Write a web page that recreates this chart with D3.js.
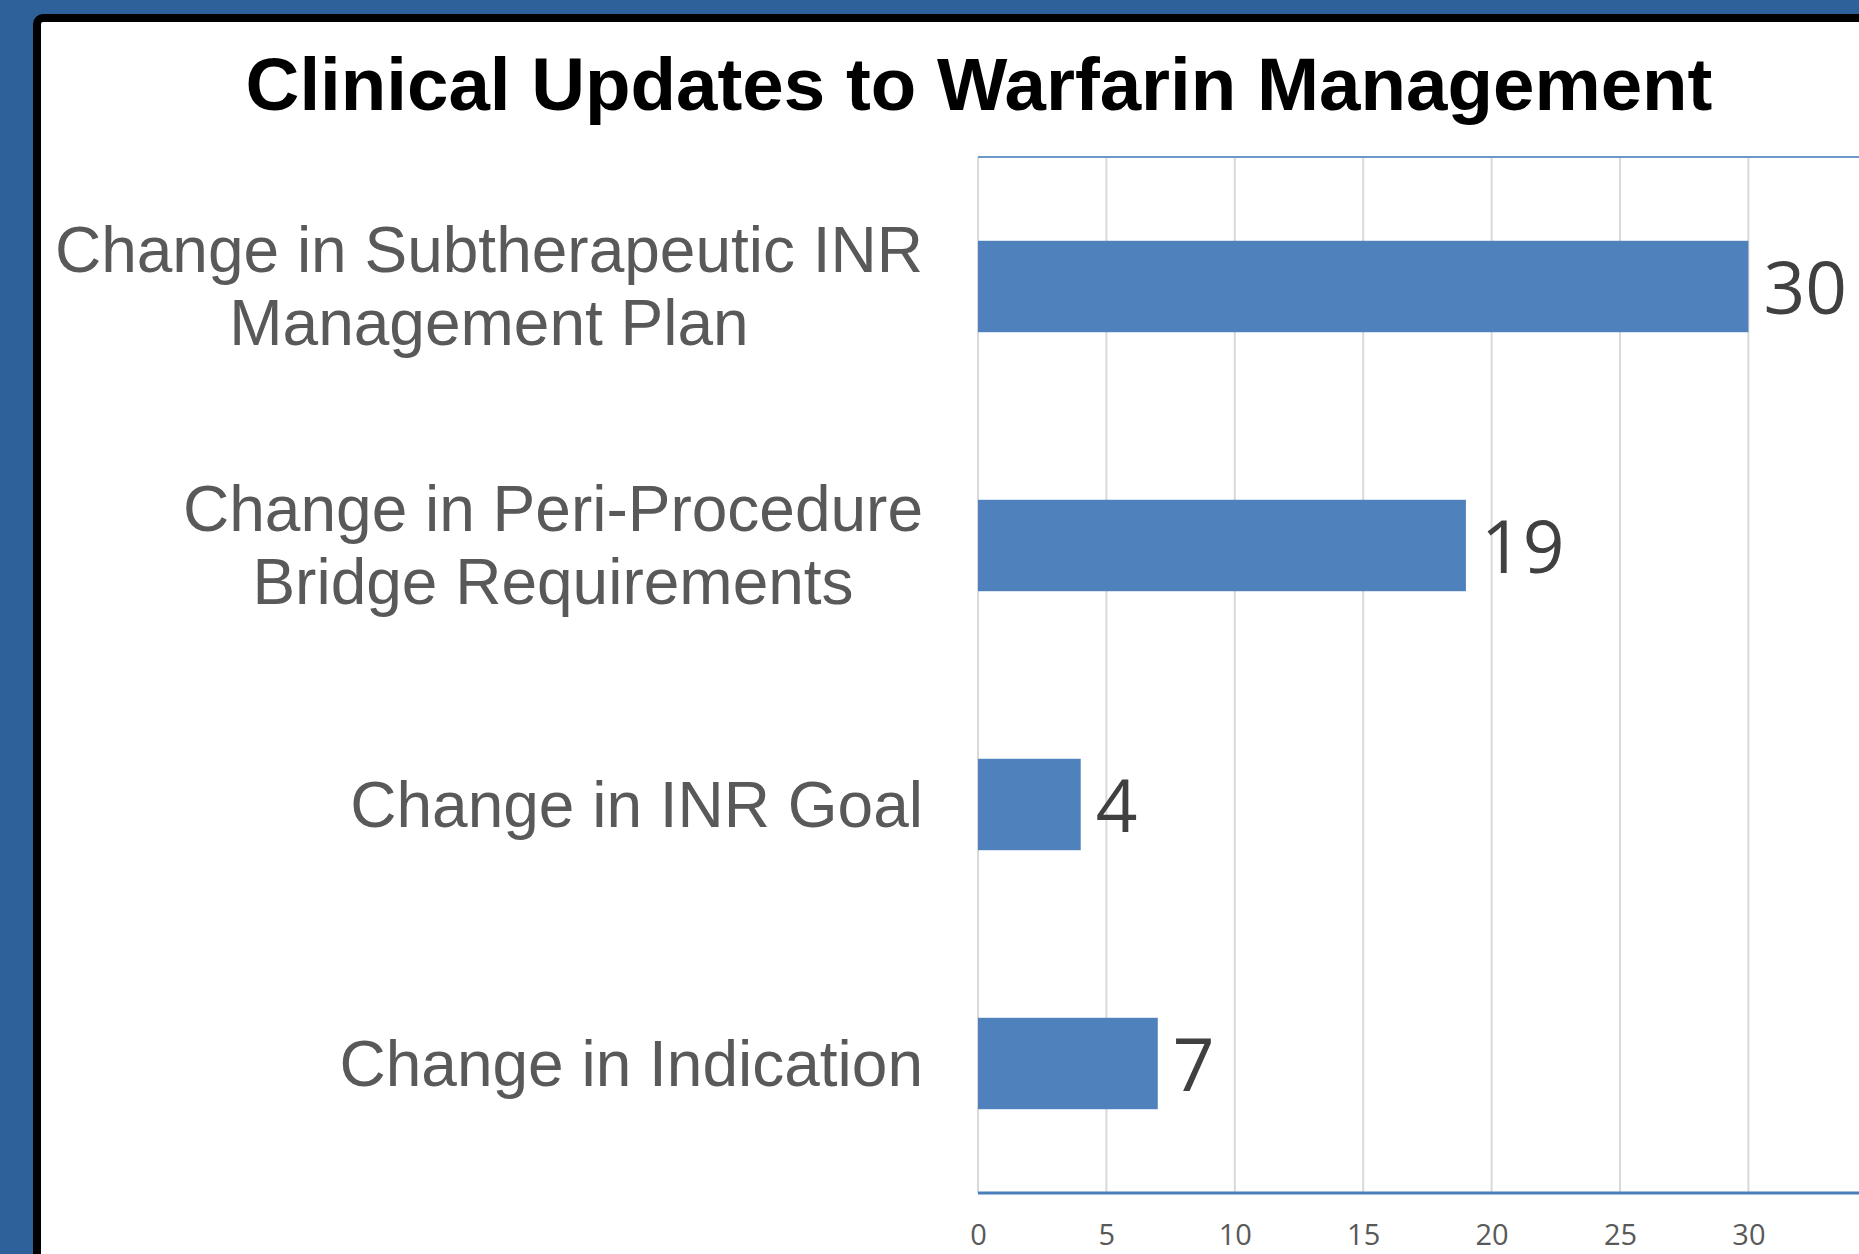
<!DOCTYPE html>
<html>
<head>
<meta charset="utf-8">
<script src="https://cdn.jsdelivr.net/npm/d3@7"></script>
<style>
  html, body { margin: 0; padding: 0; background: #2e6099; overflow: hidden; }
</style>
</head>
<body>
<div id="chart"></div>
<script>
// chart data
const title = "Clinical Updates to Warfarin Management";
const categories = [
  ["Change in Subtherapeutic INR", "Management Plan"],
  ["Change in Peri-Procedure", "Bridge Requirements"],
  ["Change in INR Goal"],
  ["Change in Indication"]
];
const values = [30, 19, 4, 7];
const tickValues = [0, 5, 10, 15, 20, 25, 30];

const w = 1859;
const h = 1254;
const plot = { left: 978, top: 157, bottom: 1193, unit: 25.68 };

let svg = d3.select("#chart")
  .append("svg")
  .attr("width", w)
  .attr("height", h);

// white slide panel with black frame (runs off the right/bottom edge)
svg.append("rect")
  .attr("x", 37).attr("y", 18)
  .attr("width", 2000).attr("height", 2000)
  .attr("rx", 6)
  .attr("fill", "white")
  .attr("stroke", "black")
  .attr("stroke-width", 8);

svg.append("text")
  .attr("x", 979).attr("y", 110)
  .attr("text-anchor", "middle")
  .attr("font-family", "'Liberation Sans', Arial, sans-serif")
  .attr("font-weight", "bold")
  .attr("font-size", 74.5)
  .attr("fill", "black")
  .text(title);

const x = d3.scaleLinear()
  .domain([0, 35])
  .range([plot.left, plot.left + 35 * plot.unit]);

const y = d3.scaleBand()
  .domain(d3.range(categories.length))
  .range([plot.top, plot.bottom])
  .paddingInner(0.647)
  .paddingOuter(0.3235);

// gridlines
svg.append("g")
  .selectAll("line")
  .data(tickValues)
  .join("line")
  .attr("x1", d => x(d)).attr("x2", d => x(d))
  .attr("y1", plot.top).attr("y2", plot.bottom)
  .attr("stroke", "#d9d9d9")
  .attr("stroke-width", 2);

// top border of plot area
svg.append("line")
  .attr("x1", plot.left).attr("x2", w)
  .attr("y1", plot.top).attr("y2", plot.top)
  .attr("stroke", "#6d98cc")
  .attr("stroke-width", 2);

// bars
svg.append("g")
  .selectAll("rect")
  .data(values)
  .join("rect")
  .attr("x", x(0))
  .attr("y", (d, i) => y(i))
  .attr("width", d => x(d) - x(0))
  .attr("height", y.bandwidth())
  .attr("fill", "#4f81bd");

// value labels
svg.append("g")
  .selectAll("text")
  .data(values)
  .join("text")
  .attr("x", d => x(d) + 15)
  .attr("y", (d, i) => y(i) + y.bandwidth() / 2 + 27)
  .attr("font-family", "'Open Sans', sans-serif")
  .attr("font-size", 73)
  .attr("fill", "#404040")
  .text(d => d);

// x axis along the bottom
let axis = svg.append("g")
  .attr("transform", `translate(0,${plot.bottom})`)
  .call(d3.axisBottom(x).tickValues(tickValues).tickSize(0).tickPadding(31));
axis.select(".domain").remove();
axis.selectAll("text")
  .attr("font-family", "'Open Sans', sans-serif")
  .attr("font-size", 29)
  .attr("fill", "#595959");

svg.append("line")
  .attr("x1", plot.left).attr("x2", w)
  .attr("y1", plot.bottom).attr("y2", plot.bottom)
  .attr("stroke", "#4a7ebb")
  .attr("stroke-width", 3);

// category labels: each block is right-aligned, lines centered within it
const labelRight = 923;
const lineGap = 73.5;
const capHalf = 22;

categories.forEach(function (lines, i) {
  let cy = y(i) + y.bandwidth() / 2;
  let t = svg.append("text")
    .attr("font-family", "'Liberation Sans', Arial, sans-serif")
    .attr("font-size", 64)
    .attr("fill", "#595959")
    .attr("text-anchor", "middle");

  let spans = lines.map(function (line, j) {
    return t.append("tspan")
      .attr("y", cy - (lines.length - 1) * lineGap / 2 + j * lineGap + capHalf)
      .text(line);
  });

  let maxW = d3.max(spans, s => s.node().getComputedTextLength());
  spans.forEach(s => s.attr("x", labelRight - maxW / 2));
});
</script>
</body>
</html>
